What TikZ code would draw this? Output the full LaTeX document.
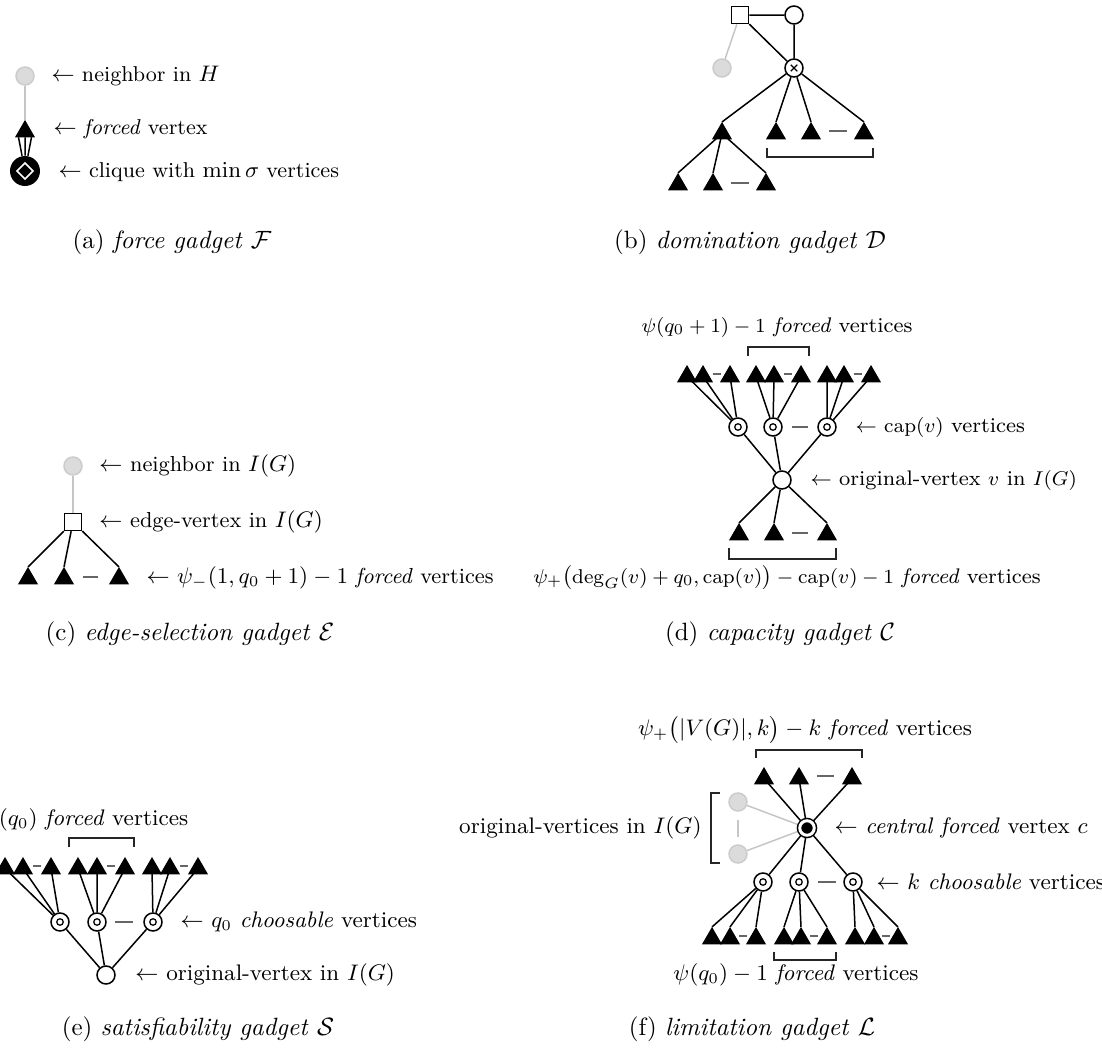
\documentclass[tikz,border=0pt]{standalone}
\usepackage{amsmath}
\usetikzlibrary{shapes.geometric,backgrounds}

\tikzset{
  vert/.style={circle,draw,fill=white,line width=0.6pt,minimum size=7.2pt,inner sep=0pt},
  nbr/.style={circle,draw=gray!40,fill=gray!28,line width=0.6pt,minimum size=7.2pt,inner sep=0pt},
  frc/.style={regular polygon,regular polygon sides=3,fill=black,minimum size=9.24pt,inner sep=0pt,outer sep=0pt},
  edgev/.style={rectangle,draw,fill=white,line width=0.6pt,minimum size=6.8pt,inner sep=0pt},
  choos/.style={vert,path picture={\draw[line width=0.5pt] (path picture bounding box.center) circle (1.3pt);}},
  domv/.style={vert,path picture={\draw[line width=0.5pt] (path picture bounding box.center)
      +(-1.3pt,-1.3pt) -- +(1.3pt,1.3pt) +(-1.3pt,1.3pt) -- +(1.3pt,-1.3pt);}},
  cntr/.style={circle,draw,fill=black,line width=0.6pt,double=white,double distance=1.2pt,
      minimum size=5.8pt,inner sep=0pt},
  clq/.style={circle,fill=black,minimum size=12pt,inner sep=0pt,path picture={\draw[white,line width=0.6pt]
      (path picture bounding box.center) +(0,3.2pt) -- +(3.2pt,0) -- +(0,-3.2pt) -- +(-3.2pt,0) -- cycle
      +(0,3.2pt) -- +(0,-3.2pt) +(-3.2pt,0) -- +(3.2pt,0);}},
  etc/.style={black!60,line width=0.6pt},
  brk/.style={black!85,line width=0.45pt},
  ln/.style={line width=0.6pt},
  gln/.style={gray!45,line width=0.6pt},
  txt/.style={font=\fontsize{#1}{10}\selectfont},
  txt/.default=9,
  lbl/.style={txt=#1,inner sep=0pt,anchor=west},
  lbl/.default=9,
}

\begin{document}
\begin{tikzpicture}[x=0.4pt,y=-0.4pt]
\useasboundingbox (0,0) rectangle (1102,1053);

% (a) force gadget
\node[nbr] (fnb) at (25,76) {};
\node[frc] (ffv) at (25,131.5) {};
\node[clq] (fcl) at (25,171) {};
\node[lbl=8.6] at (51,76) {$\leftarrow$ neighbor in $H$};
\node[lbl=8.6] at (53,129) {$\leftarrow$ \textit{forced} vertex};
\node[lbl=8.6] at (58,172) {$\leftarrow$ clique with $\min\sigma$ vertices};
\node at (172,242) {(a) \textit{force gadget} $\mathcal{F}$};

% (b) domination gadget
\node[edgev] (dsq) at (740,15) {};
\node[vert] (dwc) at (794,15) {};
\node[nbr] (dnb) at (722,68) {};
\node[domv] (dx) at (794,68) {};
\draw[etc] (829,131) -- (847,131);
\draw[etc] (731,183) -- (749,183);
\node[frc] (dt1) at (722,133.5) {};
\node[frc] (dt2) at (776,133.5) {};
\node[frc] (dt3) at (811,133.5) {};
\node[frc] (dt4) at (864,133.5) {};
\node[frc] (db1) at (678,184.5) {};
\node[frc] (db2) at (713,184.5) {};
\node[frc] (db3) at (766,184.5) {};
\draw[brk] (767,148) -- (767,157) -- (873,157) -- (873,148);
\node at (750,242) {(b) \textit{domination gadget} $\mathcal{D}$};

% (c) edge-selection gadget
\node[nbr] (enb) at (73,466) {};
\node[edgev] (esq) at (73,522) {};
\draw[etc] (83,577) -- (98,577);
\node[frc] (et1) at (28,578.5) {};
\node[frc] (et2) at (64,578.5) {};
\node[frc] (et3) at (119,578.5) {};
\node[lbl=8.7] at (99,466) {$\leftarrow$ neighbor in $I(G)$};
\node[lbl=8.7] at (99,522) {$\leftarrow$ edge-vertex in $I(G)$};
\node[lbl=8.7] at (146,578) {$\leftarrow$ $\psi_-(1,q_0+1)-1$ \textit{forced} vertices};
\node at (190,634) {(c) \textit{edge-selection gadget} $\mathcal{E}$};

% (d) capacity gadget
\node[txt=8.45] at (777,327) {$\psi(q_0+1)-1$ \textit{forced} vertices};
\draw[brk] (748,356) -- (748,347) -- (809,347) -- (809,356);
\draw[etc] (712.5,374) -- (720.5,374);
\draw[etc] (783.5,374) -- (791.5,374);
\draw[etc] (853.5,374) -- (861.5,374);
\node[frc] (ct1) at (687,376.5) {};
\node[frc] (ct2) at (703,376.5) {};
\node[frc] (ct3) at (730,376.5) {};
\node[frc] (ct4) at (756,376.5) {};
\node[frc] (ct5) at (774,376.5) {};
\node[frc] (ct6) at (801,376.5) {};
\node[frc] (ct7) at (827,376.5) {};
\node[frc] (ct8) at (844,376.5) {};
\node[frc] (ct9) at (871,376.5) {};
\node[choos] (cc1) at (738,427) {};
\node[choos] (cc2) at (773,427) {};
\node[choos] (cc3) at (827,427) {};
\draw[etc] (792,427) -- (808,427);
\node[vert] (cov) at (782,480) {};
\draw[etc] (792,533) -- (808,533);
\node[frc] (cb1) at (739,534.5) {};
\node[frc] (cb2) at (774,534.5) {};
\node[frc] (cb3) at (827,534.5) {};
\draw[brk] (729,548) -- (729,559) -- (836,559) -- (836,548);
\node[lbl=8.45] at (855,427) {$\leftarrow$ $\mathrm{cap}(v)$ vertices};
\node[lbl=8.45] at (810,480) {$\leftarrow$ original-vertex $v$ in $I(G)$};
\node[txt=8.45] at (787,578) {$\psi_+\bigl(\deg_G(v)+q_0,\mathrm{cap}(v)\bigr)-\mathrm{cap}(v)-1$ \textit{forced} vertices};
\node at (780,634) {(d) \textit{capacity gadget} $\mathcal{C}$};

% (e) satisfiability gadget
\node[txt,anchor=east] at (197,820) {$\psi(q_0)$ \textit{forced} vertices};
\draw[brk] (69,847) -- (69,838) -- (134,838) -- (134,847);
\draw[etc] (33,866) -- (41,866);
\draw[etc] (107,866) -- (115,866);
\draw[etc] (180,866) -- (188,866);
\node[frc] (st1) at (5,868.5) {};
\node[frc] (st2) at (23,868.5) {};
\node[frc] (st3) at (51,868.5) {};
\node[frc] (st4) at (78,868.5) {};
\node[frc] (st5) at (97,868.5) {};
\node[frc] (st6) at (125,868.5) {};
\node[frc] (st7) at (152,868.5) {};
\node[frc] (st8) at (170,868.5) {};
\node[frc] (st9) at (198,868.5) {};
\node[choos] (sc1) at (60,922) {};
\node[choos] (sc2) at (97,922) {};
\node[choos] (sc3) at (153,922) {};
\draw[etc] (115,922) -- (133,922);
\node[vert] (sov) at (106,975) {};
\node[lbl] at (180,922) {$\leftarrow$ $q_0$ \textit{choosable} vertices};
\node[lbl] at (135,975) {$\leftarrow$ original-vertex in $I(G)$};
\node at (198,1029) {(e) \textit{satisfiability gadget} $\mathcal{S}$};

% (f) limitation gadget
\node[txt] at (805,730) {$\psi_+\bigl(|V(G)|,k\bigr)-k$ \textit{forced} vertices};
\draw[brk] (756,758) -- (756,750) -- (862,750) -- (862,758);
\draw[etc] (817,776) -- (834,776);
\node[frc] (lt1) at (764,778.5) {};
\node[frc] (lt2) at (799,778.5) {};
\node[frc] (lt3) at (852,778.5) {};
\node[cntr] (lc) at (807,828) {};
\node[nbr] (lg1) at (738,802) {};
\node[nbr] (lg2) at (738,854) {};
\draw[gln] (738,820) -- (738,837);
\draw[brk] (720,793) -- (711,793) -- (711,863) -- (720,863);
\node[txt,anchor=east,inner sep=0pt] at (702,828) {original-vertices in $I(G)$};
\node[lbl] at (834,828) {$\leftarrow$ \textit{central forced} vertex $c$};
\node[choos] (lk1) at (763,882) {};
\node[choos] (lk2) at (799,882) {};
\node[choos] (lk3) at (853,882) {};
\draw[etc] (818,882) -- (836,882);
\node[lbl] at (876,882) {$\leftarrow$ $k$ \textit{choosable} vertices};
\draw[etc] (739,936) -- (747,936);
\draw[etc] (810,936) -- (818,936);
\draw[etc] (882,936) -- (890,936);
\node[frc] (lb1) at (712,938.5) {};
\node[frc] (lb2) at (730,938.5) {};
\node[frc] (lb3) at (756,938.5) {};
\node[frc] (lb4) at (784,938.5) {};
\node[frc] (lb5) at (801,938.5) {};
\node[frc] (lb6) at (827,938.5) {};
\node[frc] (lb7) at (855,938.5) {};
\node[frc] (lb8) at (874,938.5) {};
\node[frc] (lb9) at (898,938.5) {};
\draw[brk] (774,952) -- (774,960) -- (836,960) -- (836,952);
\node[txt] at (796,975) {$\psi(q_0)-1$ \textit{forced} vertices};
\node at (752,1029) {(f) \textit{limitation gadget} $\mathcal{L}$};

% connectors
\begin{scope}[on background layer]
\draw[gln] (fnb) -- (ffv.corner 1);
\draw[ln] ([xshift=-2.6pt]ffv.side 2) -- (fcl) (ffv.side 2) -- (fcl) ([xshift=2.6pt]ffv.side 2) -- (fcl);

\draw[gln] (dsq) -- (dnb);
\draw[ln] (dsq) -- (dwc) (dsq) -- (dx) (dwc) -- (dx);
\draw[ln] (dx) -- (dt1.corner 1) (dx) -- (dt2.corner 1) (dx) -- (dt3.corner 1) (dx) -- (dt4.corner 1);
\draw[ln] (dt1.center) -- (db1.corner 1) (dt1.center) -- (db2.corner 1) (dt1.center) -- (db3.corner 1);

\draw[gln] (enb) -- (esq);
\draw[ln] (esq) -- (et1.corner 1) (esq) -- (et2.corner 1) (esq) -- (et3.corner 1);

\draw[ln] (cc1) -- (ct1.center) (cc1) -- (ct2.center) (cc1) -- (ct3.center);
\draw[ln] (cc2) -- (ct4.center) (cc2) -- (ct5.center) (cc2) -- (ct6.center);
\draw[ln] (cc3) -- (ct7.center) (cc3) -- (ct8.center) (cc3) -- (ct9.center);
\draw[ln] (cov) -- (cc1) (cov) -- (cc2) (cov) -- (cc3);
\draw[ln] (cov) -- (cb1.corner 1) (cov) -- (cb2.corner 1) (cov) -- (cb3.corner 1);

\draw[ln] (sc1) -- (st1.center) (sc1) -- (st2.center) (sc1) -- (st3.center);
\draw[ln] (sc2) -- (st4.center) (sc2) -- (st5.center) (sc2) -- (st6.center);
\draw[ln] (sc3) -- (st7.center) (sc3) -- (st8.center) (sc3) -- (st9.center);
\draw[ln] (sov) -- (sc1) (sov) -- (sc2) (sov) -- (sc3);

\draw[ln] (lc) -- (lt1.center) (lc) -- (lt2.center) (lc) -- (lt3.center);
\draw[gln] (lc) -- (lg1) (lc) -- (lg2);
\draw[ln] (lc) -- (lk1) (lc) -- (lk2) (lc) -- (lk3);
\draw[ln] (lk1) -- (lb1.corner 1) (lk1) -- (lb2.corner 1) (lk1) -- (lb3.corner 1);
\draw[ln] (lk2) -- (lb4.corner 1) (lk2) -- (lb5.corner 1) (lk2) -- (lb6.corner 1);
\draw[ln] (lk3) -- (lb7.corner 1) (lk3) -- (lb8.corner 1) (lk3) -- (lb9.corner 1);
\end{scope}
\end{tikzpicture}
\end{document}
